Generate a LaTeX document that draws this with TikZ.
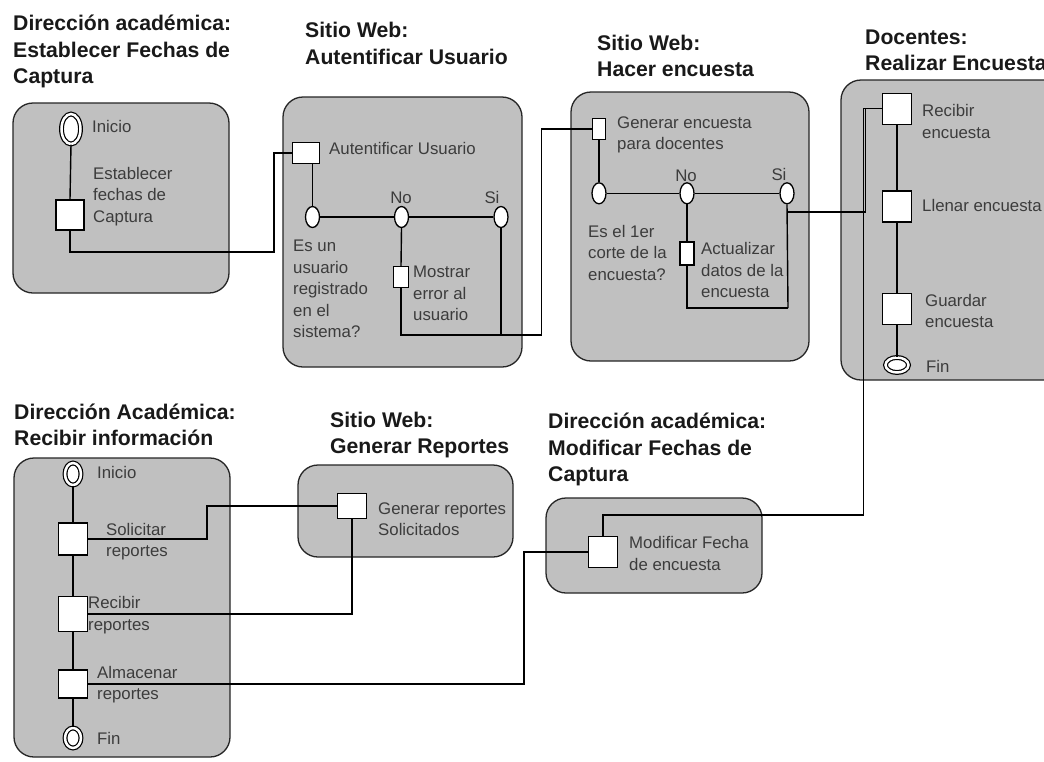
\documentclass[tikz,border=0pt]{standalone}
\usepackage{fontspec}
\setmainfont{Liberation Sans}
\usetikzlibrary{shapes.geometric}
\definecolor{panelgray}{RGB}{192,192,192}
\definecolor{bodytext}{RGB}{60,60,60}
\definecolor{titletext}{RGB}{25,25,25}
\begin{document}
\begin{tikzpicture}[x=1pt,y=-1pt,
 panel/.style={draw=black!85, fill=panelgray, line width=1.3pt, rounded corners=20pt},
 ttl/.style={anchor=west, inner sep=0, align=left, text=titletext, font=\bfseries\fontsize{21.2}{26.5}\selectfont},
 lbl/.style={anchor=west, inner sep=0, align=left, text=bodytext, font=\fontsize{16.8}{21.5}\selectfont},
 clbl/.style={lbl, anchor=center},
 act/.style={draw=black, fill=white, line width=1.4pt, rectangle, inner sep=0},
 dec/.style={draw=black, fill=white, line width=1.3pt, ellipse, inner sep=0, minimum width=14pt, minimum height=21pt},
 term/.style={ellipse, draw=black, fill=white, double=white, double distance=2.5pt, line width=1.2pt, inner sep=0},
 conn/.style={draw=black, line width=1.4pt}]

\clip (0,0) rectangle (1044,761);
\fill[white] (0,0) rectangle (1044,761);

% panels
\path[panel] (13,103) rectangle (229,293);
\path[panel] (283,97) rectangle (522,367);
\path[panel] (571,92) rectangle (809,361);
\path[panel] (841,80) rectangle (1075,380);
\path[panel] (546,498) rectangle (762,593);
\path[panel] (298,465) rectangle (513,557);
\path[panel] (14,458) rectangle (230,757);

% titles
\node[ttl] (t1) at (13,51.5) {Dirección académica:\\Establecer Fechas de\\Captura};
\node[ttl] (t2) at (305,43.5) {Sitio Web:\\Autentificar Usuario};
\node[ttl] (t3) at (597,56) {Sitio Web:\\Hacer encuesta};
\node[ttl] (t4) at (865,50.5) {Docentes:\\Realizar Encuesta};
\node[ttl] (t5) at (14,425) {Dirección Académica:\\Recibir información};
\node[ttl] (t6) at (330,435) {Sitio Web:\\Generar Reportes};
\node[ttl] (t7) at (548,449.5) {Dirección académica:\\Modificar Fechas de\\Captura};

% panel 1
\node[term, minimum width=19pt, minimum height=30pt] (ini1) at (71,129) {};
\node[lbl] (ini1l) at (92,126) {Inicio};
\node[act, minimum width=28pt, minimum height=30pt] (sq1) at (70,215) {};
\node[lbl] (sq1l) at (93,196.5) {Establecer\\fechas de\\Captura};

% panel 2
\node[act, minimum width=27pt, minimum height=21pt] (sq2) at (306,153) {};
\node[lbl] (sq2l) at (329,148) {Autentificar Usuario};
\node[dec] (d2a) at (312.5,217) {};
\node[dec] (d2b) at (401.5,217) {};
\node[dec] (d2c) at (501,217) {};
\node[clbl] (no2) at (401,198) {No};
\node[clbl] (si2) at (492,197) {Si};
\node[lbl] (d2l) at (293,289) {Es un\\usuario\\registrado\\en el\\sistema?};
\node[act, minimum width=15pt, minimum height=21pt] (sq2b) at (401,277) {};
\node[lbl] (sq2bl) at (413,293.3) {Mostrar\\error al\\usuario};

% panel 3
\node[act, minimum width=13pt, minimum height=21pt] (sq3) at (599,129) {};
\node[lbl] (sq3l) at (617,135) {Generar encuesta\\para docentes};
\node[dec] (d3a) at (599,193.3) {};
\node[dec] (d3b) at (687,193.3) {};
\node[dec] (d3c) at (787,193.3) {};
\node[clbl] (no3) at (686,176) {No};
\node[clbl] (si3) at (779,174) {Si};
\node[lbl] (d3l) at (588,252.5) {Es el 1er\\corte de la\\encuesta?};
\node[act, minimum width=14pt, minimum height=23pt] (sq3b) at (687,253.3) {};
\node[lbl] (sq3bl) at (701,270) {Actualizar\\datos de la\\encuesta};

% panel 4
\node[act, minimum width=29pt, minimum height=31pt] (sq4a) at (897,108.7) {};
\node[lbl] (sq4al) at (922,121.5) {Recibir\\encuesta};
\node[act, minimum width=29pt, minimum height=31pt] (sq4b) at (897,206.3) {};
\node[lbl] (sq4bl) at (922,205) {Llenar encuesta};
\node[act, minimum width=29pt, minimum height=31pt] (sq4c) at (897,308.7) {};
\node[lbl] (sq4cl) at (925,311) {Guardar\\encuesta};
\node[term, minimum width=23pt, minimum height=15pt] (fin4) at (897,365) {};
\node[lbl] (fin4l) at (926,366) {Fin};

% panel 5 (Modificar)
\node[act, minimum width=29pt, minimum height=31pt] (sq5) at (603,552) {};
\node[lbl] (sq5l) at (629,553.3) {Modificar Fecha\\de encuesta};

% panel 6 (Generar reportes)
\node[act, minimum width=29pt, minimum height=25pt] (sq6) at (352,506) {};
\node[lbl] (sq6l) at (378,519) {Generar reportes\\Solicitados};

% panel 7 (Recibir informacion)
\node[term, minimum width=16pt, minimum height=22pt] (ini7) at (73,474) {};
\node[lbl] (ini7l) at (97,472) {Inicio};
\node[act, minimum width=29pt, minimum height=32pt] (sq7a) at (73,539) {};
\node[lbl] (sq7al) at (106,541.5) {Solicitar\\reportes};
\node[act, minimum width=29pt, minimum height=35pt] (sq7b) at (73,614) {};
\node[lbl] (sq7bl) at (88,615) {Recibir\\reportes};
\node[act, minimum width=29pt, minimum height=28pt] (sq7c) at (73,684) {};
\node[lbl] (sq7cl) at (97,684.5) {Almacenar\\reportes};
\node[term, minimum width=16pt, minimum height=20pt] (fin7) at (73,738) {};
\node[lbl] (fin7l) at (97,738) {Fin};

% bend coordinates
\coordinate (b1) at (274,252);
\coordinate (b2) at (541.5,335);
\coordinate (b3) at (788,308);
\coordinate (j3) at (788,212);
\coordinate (b4) at (865.5,212);
\coordinate (b5) at (863.5,515);
\coordinate (b6) at (524,684);
\coordinate (b7) at (207,539);

% connectors panel 1
\draw[conn] (ini1.south) -- (sq1.north);
\draw[conn] (sq1.south) |- (b1) |- (sq2.west);
% panel 2
\draw[conn] (sq2.south -| d2a.north) -- (d2a.north);
\draw[conn] (d2a.east) -- (d2b.west);
\draw[conn] (d2b.east) -- (d2c.west);
\draw[conn] (d2b.south) -- (sq2b.north);
\draw[conn] (sq2b.south) |- (b2) |- (sq3.west);
\draw[conn] (d2c.south) -- (d2c.south |- b2);
% panel 3
\draw[conn] (sq3.south) -- (d3a.north);
\draw[conn] (d3a.east) -- (d3b.west);
\draw[conn] (d3b.east) -- (d3c.west);
\draw[conn] (d3b.south) -- (sq3b.north);
\draw[conn] (sq3b.south) |- (b3);
\draw[conn] (d3c.south) -- (b3);
\draw[conn] (j3) -- (b4) |- (sq4a.west);
% panel 4
\draw[conn] (sq4a.south) -- (sq4b.north);
\draw[conn] (sq4b.south) -- (sq4c.north);
\draw[conn] (sq4c.south) -- (fin4.north);
\draw[conn] (sq4a.west) -| (b5) -| (sq5.north);
% Modificar -> Almacenar
\draw[conn] (sq5.west) -| (b6) -- (sq7c.east);
% Generar reportes
\draw[conn] (sq6.west) -| (b7) -- (sq7a.east);
\draw[conn] (sq6.south) |- (sq7b.east);
% panel 7
\draw[conn] (ini7.south) -- (sq7a.north);
\draw[conn] (sq7a.south) -- (sq7b.north);
\draw[conn] (sq7b.south) -- (sq7c.north);
\draw[conn] (sq7c.south) -- (fin7.north);
\end{tikzpicture}
\end{document}
